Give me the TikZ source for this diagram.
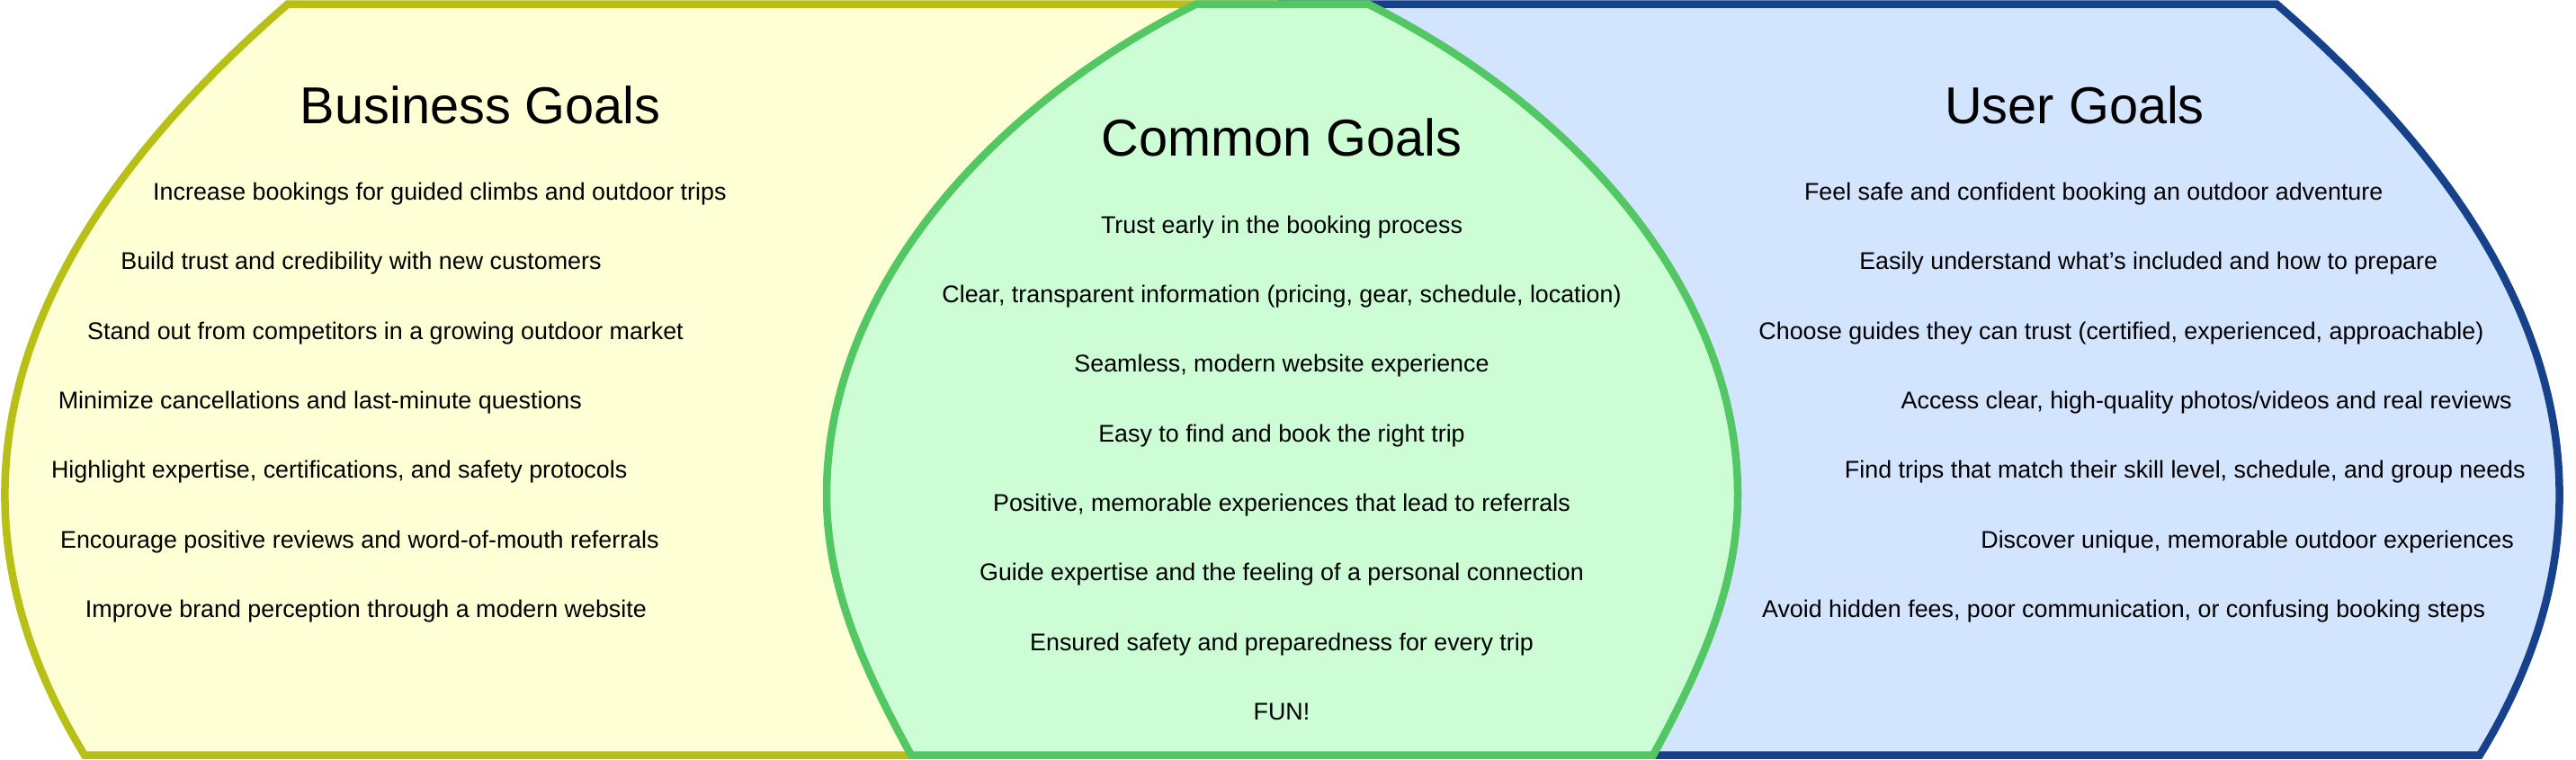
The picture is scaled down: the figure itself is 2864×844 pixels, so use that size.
\documentclass[tikz,border=0pt]{standalone}
\usepackage{fontspec}
\setmainfont{Liberation Sans}
\definecolor{yfill}{HTML}{FEFFD4}
\definecolor{ydraw}{HTML}{B8BF16}
\definecolor{gfill}{HTML}{CCFDD4}
\definecolor{gdraw}{HTML}{53C763}
\definecolor{bfill}{HTML}{D3E4FE}
\definecolor{bdraw}{HTML}{17418B}
\begin{document}
\begin{tikzpicture}[x=1pt,y=-1pt,
  region/.style={line width=8.5pt, line join=miter},
  goaltitle/.style={anchor=base, inner sep=0pt, font=\fontsize{57.7pt}{60pt}\selectfont},
  goalitem/.style={anchor=base, inner sep=0pt, font=\fontsize{26.85pt}{30pt}\selectfont}]
\useasboundingbox (0,0) rectangle (2864,844);
\fill[white] (0,0) rectangle (2864,844);
% business (yellow)
\filldraw[region, fill=yfill, draw=ydraw] (320,4.5) -- (1425.5,4.5) -- (1425.5,839.5) -- (94,839.5)
  .. controls (-76.3,561.2) and (-1,282.8) .. (320,4.5) -- cycle;
% user (blue)
\filldraw[region, fill=bfill, draw=bdraw] (2531,4.5) -- (1425.5,4.5) -- (1425.5,839.5) -- (2757,839.5)
  .. controls (2927.3,561.2) and (2852,282.8) .. (2531,4.5) -- cycle;
% common (green)
\filldraw[region, fill=gfill, draw=gdraw] (1330,4.5) -- (1521,4.5)
  .. controls (1761,124.5) and (1932,330) .. (1932,550)
  .. controls (1932,650) and (1893,739.5) .. (1838,839.5)
  -- (1013,839.5)
  .. controls (958,739.5) and (919,650) .. (919,550)
  .. controls (919,330) and (1090,124.5) .. (1330,4.5)
  -- cycle;
% titles
\node[goaltitle] (bt) at (534.3,137.2) {Business Goals};
\node[goaltitle] (ct) at (1425,173.3) {Common Goals};
\node[goaltitle] (ut) at (2306.6,137.2) {User Goals};
% business items
\node[goalitem] (b1) at (488.9,222.3) {Increase bookings for guided climbs and outdoor trips};
\node[goalitem] (b2) at (401.5,299.7) {Build trust and credibility with new customers};
\node[goalitem] (b3) at (428.5,377.1) {Stand out from competitors in a growing outdoor market};
\node[goalitem] (b4) at (355.9,454.5) {Minimize cancellations and last-minute questions};
\node[goalitem] (b5) at (377.2,531.9) {Highlight expertise, certifications, and safety protocols};
\node[goalitem] (b6) at (399.9,609.3) {Encourage positive reviews and word-of-mouth referrals};
\node[goalitem] (b7) at (406.9,686.7) {Improve brand perception through a modern website};
% common items
\node[goalitem] (c1) at (1425,259.4) {Trust early in the booking process};
\node[goalitem] (c2) at (1425,336.7) {Clear, transparent information (pricing, gear, schedule, location)};
\node[goalitem] (c3) at (1425,413.9) {Seamless, modern website experience};
\node[goalitem] (c4) at (1425,491.2) {Easy to find and book the right trip};
\node[goalitem] (c5) at (1425,568.5) {Positive, memorable experiences that lead to referrals};
\node[goalitem] (c6) at (1425,645.8) {Guide expertise and the feeling of a personal connection};
\node[goalitem] (c7) at (1425,723.0) {Ensured safety and preparedness for every trip};
\node[goalitem] (c8) at (1425,800.3) {FUN!};
% user items
\node[goalitem] (u1) at (2327.7,222.3) {Feel safe and confident booking an outdoor adventure};
\node[goalitem] (u2) at (2388.7,299.7) {Easily understand what’s included and how to prepare};
\node[goalitem] (u3) at (2358.4,377.1) {Choose guides they can trust (certified, experienced, approachable)};
\node[goalitem] (u4) at (2453.2,454.5) {Access clear, high-quality photos/videos and real reviews};
\node[goalitem] (u5) at (2429.3,531.9) {Find trips that match their skill level, schedule, and group needs};
\node[goalitem] (u6) at (2498.6,609.3) {Discover unique, memorable outdoor experiences};
\node[goalitem] (u7) at (2361.1,686.7) {Avoid hidden fees, poor communication, or confusing booking steps};
\end{tikzpicture}
\end{document}
